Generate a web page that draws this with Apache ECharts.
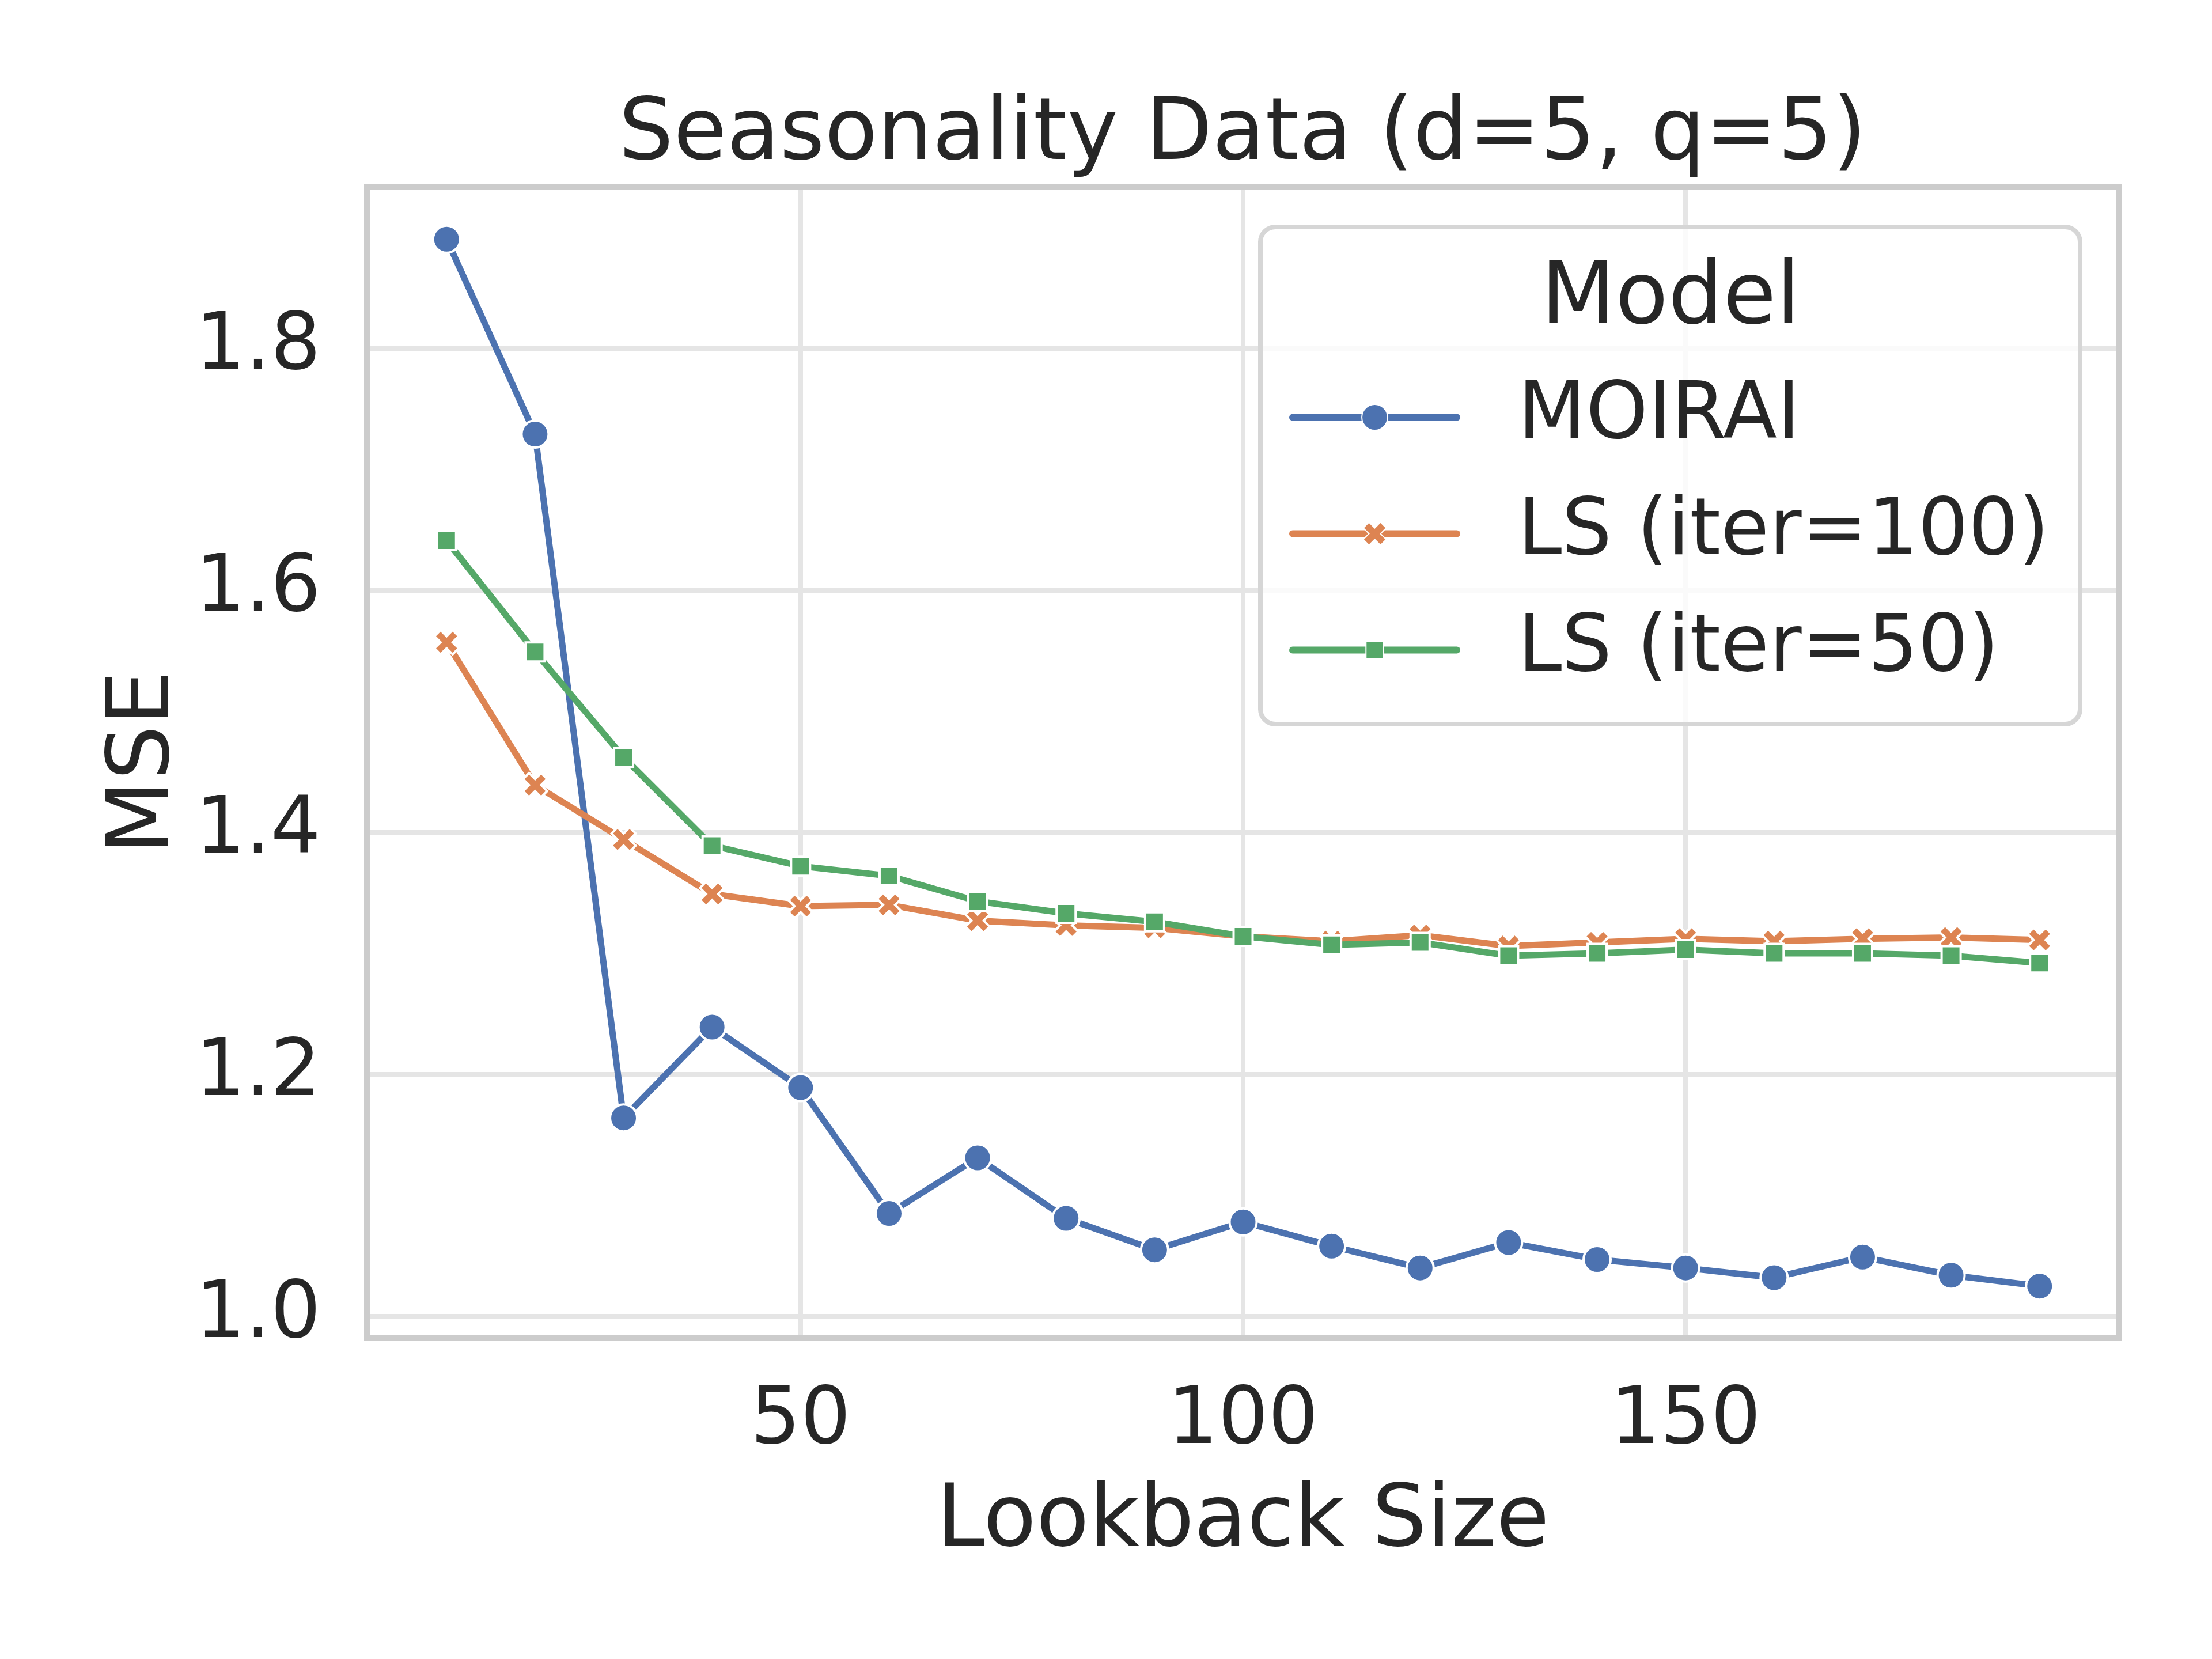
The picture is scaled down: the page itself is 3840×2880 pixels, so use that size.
<!DOCTYPE html>
<html>
<head>
<meta charset="utf-8">
<title>Seasonality Data</title>
<script src="https://cdn.jsdelivr.net/npm/echarts@6/dist/echarts.min.js"></script>
<style>
  html, body { margin: 0; padding: 0; background: #fff; }
  #main { width: 3840px; height: 2880px; }
</style>
</head>
<body>
<div id="main"></div>
<script>
// data
var lookback = [10, 20, 30, 40, 50, 60, 70, 80, 90, 100, 110, 120, 130, 140, 150, 160, 170, 180, 190];
var moirai = [1.890, 1.729, 1.164, 1.239, 1.189, 1.085, 1.131, 1.081, 1.055, 1.078, 1.058, 1.040, 1.061, 1.047, 1.040, 1.032, 1.049, 1.034, 1.025];
var lsIter100 = [1.557, 1.439, 1.394, 1.349, 1.339, 1.340, 1.327, 1.323, 1.321, 1.314, 1.310, 1.315, 1.306, 1.309, 1.312, 1.310, 1.312, 1.313, 1.311];
var lsIter50 = [1.641, 1.549, 1.462, 1.389, 1.372, 1.364, 1.343, 1.333, 1.326, 1.314, 1.307, 1.309, 1.298, 1.300, 1.303, 1.300, 1.300, 1.298, 1.292];
var seriesNames = ["MOIRAI", "LS (iter=100)", "LS (iter=50)"];

var textColor = "#262626";
var font = "DejaVu Sans";
var xMark = "path://M1 0L2 1L3 0L4 1L3 2L4 3L3 4L2 3L1 4L0 3L1 2L0 1Z";

function pairs(ys) {
  return lookback.map(function (x, i) { return [x, ys[i]]; });
}

function legendRow(name, top, itemHeight) {
  return {
    data: [name],
    orient: "vertical",
    left: 2238,
    top: top,
    padding: 0,
    itemWidth: 285,
    itemHeight: itemHeight,
    selectedMode: false,
    lineStyle: { width: 12, cap: "round" },
    textStyle: { fontSize: 137, color: textColor, fontFamily: font, padding: [0, 0, 0, 101] },
    z: 20
  };
}

var myChart = echarts.init(document.getElementById("main"));

myChart.setOption({
  backgroundColor: "#ffffff",
  animation: false,
  textStyle: { fontFamily: font },
  grid: {
    left: 637, right: 161, top: 325, bottom: 557,
    show: false,
    containLabel: false, outerBoundsMode: "none"
  },
  legend: [
    legendRow(seriesNames[0], 656, 56),
    legendRow(seriesNames[1], 858, 50),
    legendRow(seriesNames[2], 1060, 38)
  ],
  graphic: [
    {
      type: "text", x: 2157, y: 237, z: 20,
      style: { text: "Seasonality Data (d=5, q=5)", fontSize: 150, fontFamily: font, fill: textColor, align: "center", verticalAlign: "middle" }
    },
    {
      // axes frame (spines)
      type: "rect", z: 10, silent: true,
      shape: { x: 637, y: 325, width: 3042, height: 1998 },
      style: { fill: null, stroke: "#cccccc", lineWidth: 10 }
    },
    {
      type: "rect", z: 15,
      shape: { x: 2188, y: 394, width: 1423, height: 863, r: 26 },
      style: { fill: "rgba(255,255,255,0.8)", stroke: "#d6d6d6", lineWidth: 8 }
    },
    {
      type: "text", x: 2900, y: 522, z: 20,
      style: { text: "Model", fontSize: 150, fontFamily: font, fill: textColor, align: "center", verticalAlign: "middle" }
    }
  ],
  xAxis: {
    type: "value",
    min: 1,
    max: 199,
    splitNumber: 4,
    name: "Lookback Size",
    nameLocation: "middle",
    nameGap: 246,
    nameTextStyle: { fontSize: 150, color: textColor, fontFamily: font },
    axisLine: { show: false },
    axisTick: { show: false },
    axisLabel: { fontSize: 137, color: textColor, fontFamily: font, margin: 78, showMinLabel: false, showMaxLabel: false },
    splitLine: { show: true, lineStyle: { color: "#e5e5e5", width: 8 } }
  },
  yAxis: {
    type: "value",
    min: 0.982,
    max: 1.933,
    splitNumber: 5,
    name: "MSE",
    nameLocation: "middle",
    nameGap: 305,
    nameTextStyle: { fontSize: 150, color: textColor, fontFamily: font },
    axisLine: { show: false },
    axisTick: { show: false },
    axisLabel: {
      fontSize: 137, color: textColor, fontFamily: font, margin: 80,
      showMinLabel: false, showMaxLabel: false,
      formatter: function (v) { return v.toFixed(1); }
    },
    splitLine: { show: true, lineStyle: { color: "#e5e5e5", width: 8 } }
  },
  series: [
    {
      name: seriesNames[0],
      type: "line",
      z: 3,
      data: pairs(moirai),
      symbol: "circle",
      symbolSize: 47,
      color: "#4c72b0",
      lineStyle: { color: "#4c72b0", width: 11 },
      itemStyle: { color: "#4c72b0", borderColor: "#ffffff", borderWidth: 4 }
    },
    {
      name: seriesNames[1],
      type: "line",
      z: 4,
      data: pairs(lsIter100),
      symbol: xMark,
      symbolSize: 42,
      color: "#dd8452",
      lineStyle: { color: "#dd8452", width: 11 },
      itemStyle: { color: "#dd8452", borderColor: "#ffffff", borderWidth: 4 }
    },
    {
      name: seriesNames[2],
      type: "line",
      z: 5,
      data: pairs(lsIter50),
      symbol: "rect",
      symbolSize: 33,
      color: "#55a868",
      lineStyle: { color: "#55a868", width: 11 },
      itemStyle: { color: "#55a868", borderColor: "#ffffff", borderWidth: 4 }
    }
  ]
});
</script>
</body>
</html>
